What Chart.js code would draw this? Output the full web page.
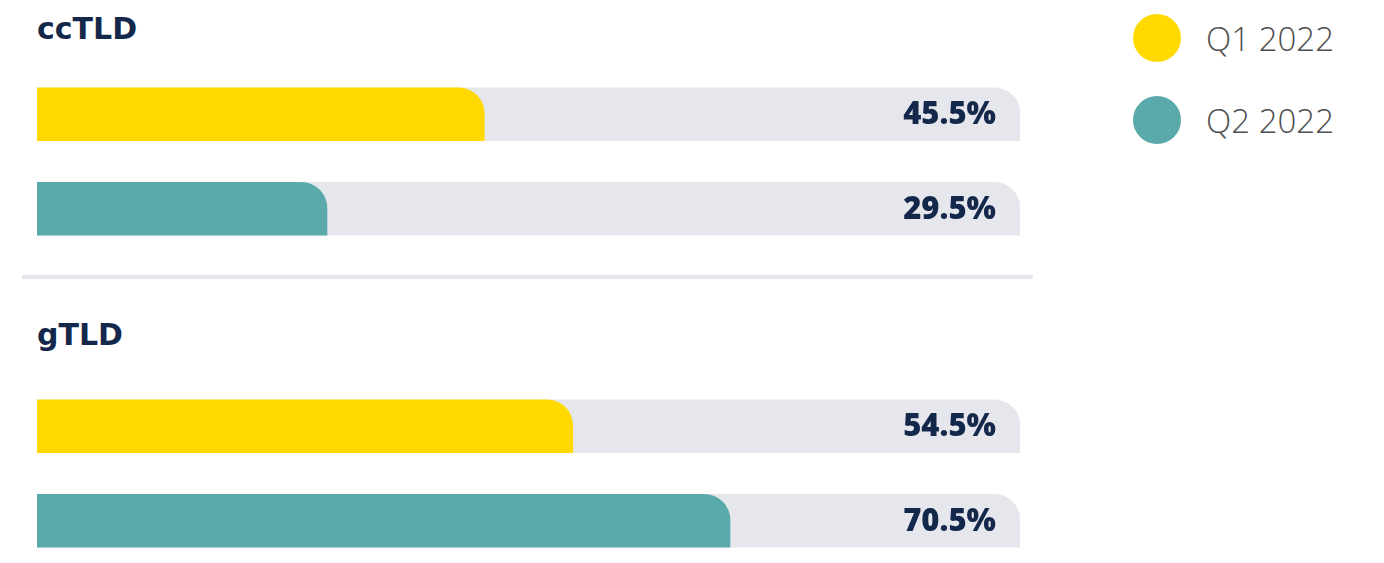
<!DOCTYPE html>
<html>
<head>
<meta charset="utf-8">
<script src="https://cdn.jsdelivr.net/npm/chart.js@4.4.0/dist/chart.umd.min.js"></script>
<style>
  html, body { margin: 0; padding: 0; background: #fff; }
  body { width: 1384px; height: 563px; position: relative; overflow: hidden; font-family: Lato, "Open Sans", sans-serif; }
  .heading { position: absolute; left: 37px; font-family: "DejaVu Sans", sans-serif; font-weight: bold; font-size: 30px; color: #14284b; margin: 0; line-height: 1; }
  .sep { position: absolute; left: 22px; top: 275px; width: 1011px; height: 4px; background: #e6e7ec; }
  .box { position: absolute; left: 0; width: 1050px; height: 189px; }
  .legend { position: absolute; left: 1133px; top: 14px; }
  .legend div { display: flex; align-items: center; height: 48px; margin-bottom: 34px; font-size: 33px; color: #4f4f4f; font-family: "Open Sans", Lato, sans-serif; font-weight: 300; }
  .legend span { display: inline-block; width: 48px; height: 48px; border-radius: 50%; margin-right: 25px; }
</style>
</head>
<body>
<h2 class="heading" style="top:14px">ccTLD</h2>
<div class="box" style="top:67px"><canvas id="chartCc"></canvas></div>
<div class="sep"></div>
<h2 class="heading" style="top:320px">gTLD</h2>
<div class="box" style="top:379px"><canvas id="chartG"></canvas></div>
<div class="legend" id="legend"></div>
<script>
  const seriesLabels = ['Q1 2022', 'Q2 2022'];
  const seriesColors = ['#FFD900', '#5AAAAC'];
  const ccTLDValues = [45.5, 29.5];
  const gTLDValues = [54.5, 70.5];
  const trackValues = [100, 100];

  document.getElementById('legend').innerHTML = seriesLabels.map((l, i) =>
    `<div><span style="background:${seriesColors[i]}"></span>${l}</div>`
  ).join('');

  const valueLabels = {
    id: 'valueLabels',
    afterDatasetsDraw(chart) {
      const ctx = chart.ctx;
      const meta = chart.getDatasetMeta(1);
      ctx.save();
      ctx.font = '800 31px "Open Sans", Lato, sans-serif';
      ctx.fillStyle = '#14284b';
      ctx.textAlign = 'right';
      ctx.textBaseline = 'middle';
      meta.data.forEach((bar, i) => {
        ctx.fillText(chart.data.datasets[1].data[i].toFixed(1) + '%', chart.chartArea.right - 24, bar.y + 1);
      });
      ctx.restore();
    }
  };

  function makeChart(id, values) {
    new Chart(document.getElementById(id), {
      type: 'bar',
      data: {
        labels: seriesLabels,
        datasets: [
          { data: trackValues, backgroundColor: '#e6e7ec', borderRadius: { topRight: 26 }, borderSkipped: false, order: 2, grouped: false, barThickness: 53 },
          { data: values, backgroundColor: seriesColors, borderRadius: { topRight: 26 }, borderSkipped: false, order: 1, grouped: false, barThickness: 53 },
        ],
      },
      options: {
        indexAxis: 'y',
        responsive: true,
        maintainAspectRatio: false,
        animation: false,
        layout: { padding: { left: 37, right: 30, top: 0, bottom: 0 } },
        plugins: { legend: { display: false }, tooltip: { enabled: false } },
        scales: {
          x: { display: false, min: 0, max: 100 },
          y: { display: false },
        },
      },
      plugins: [valueLabels],
    });
  }

  makeChart('chartCc', ccTLDValues);
  makeChart('chartG', gTLDValues);
</script>
</body>
</html>
